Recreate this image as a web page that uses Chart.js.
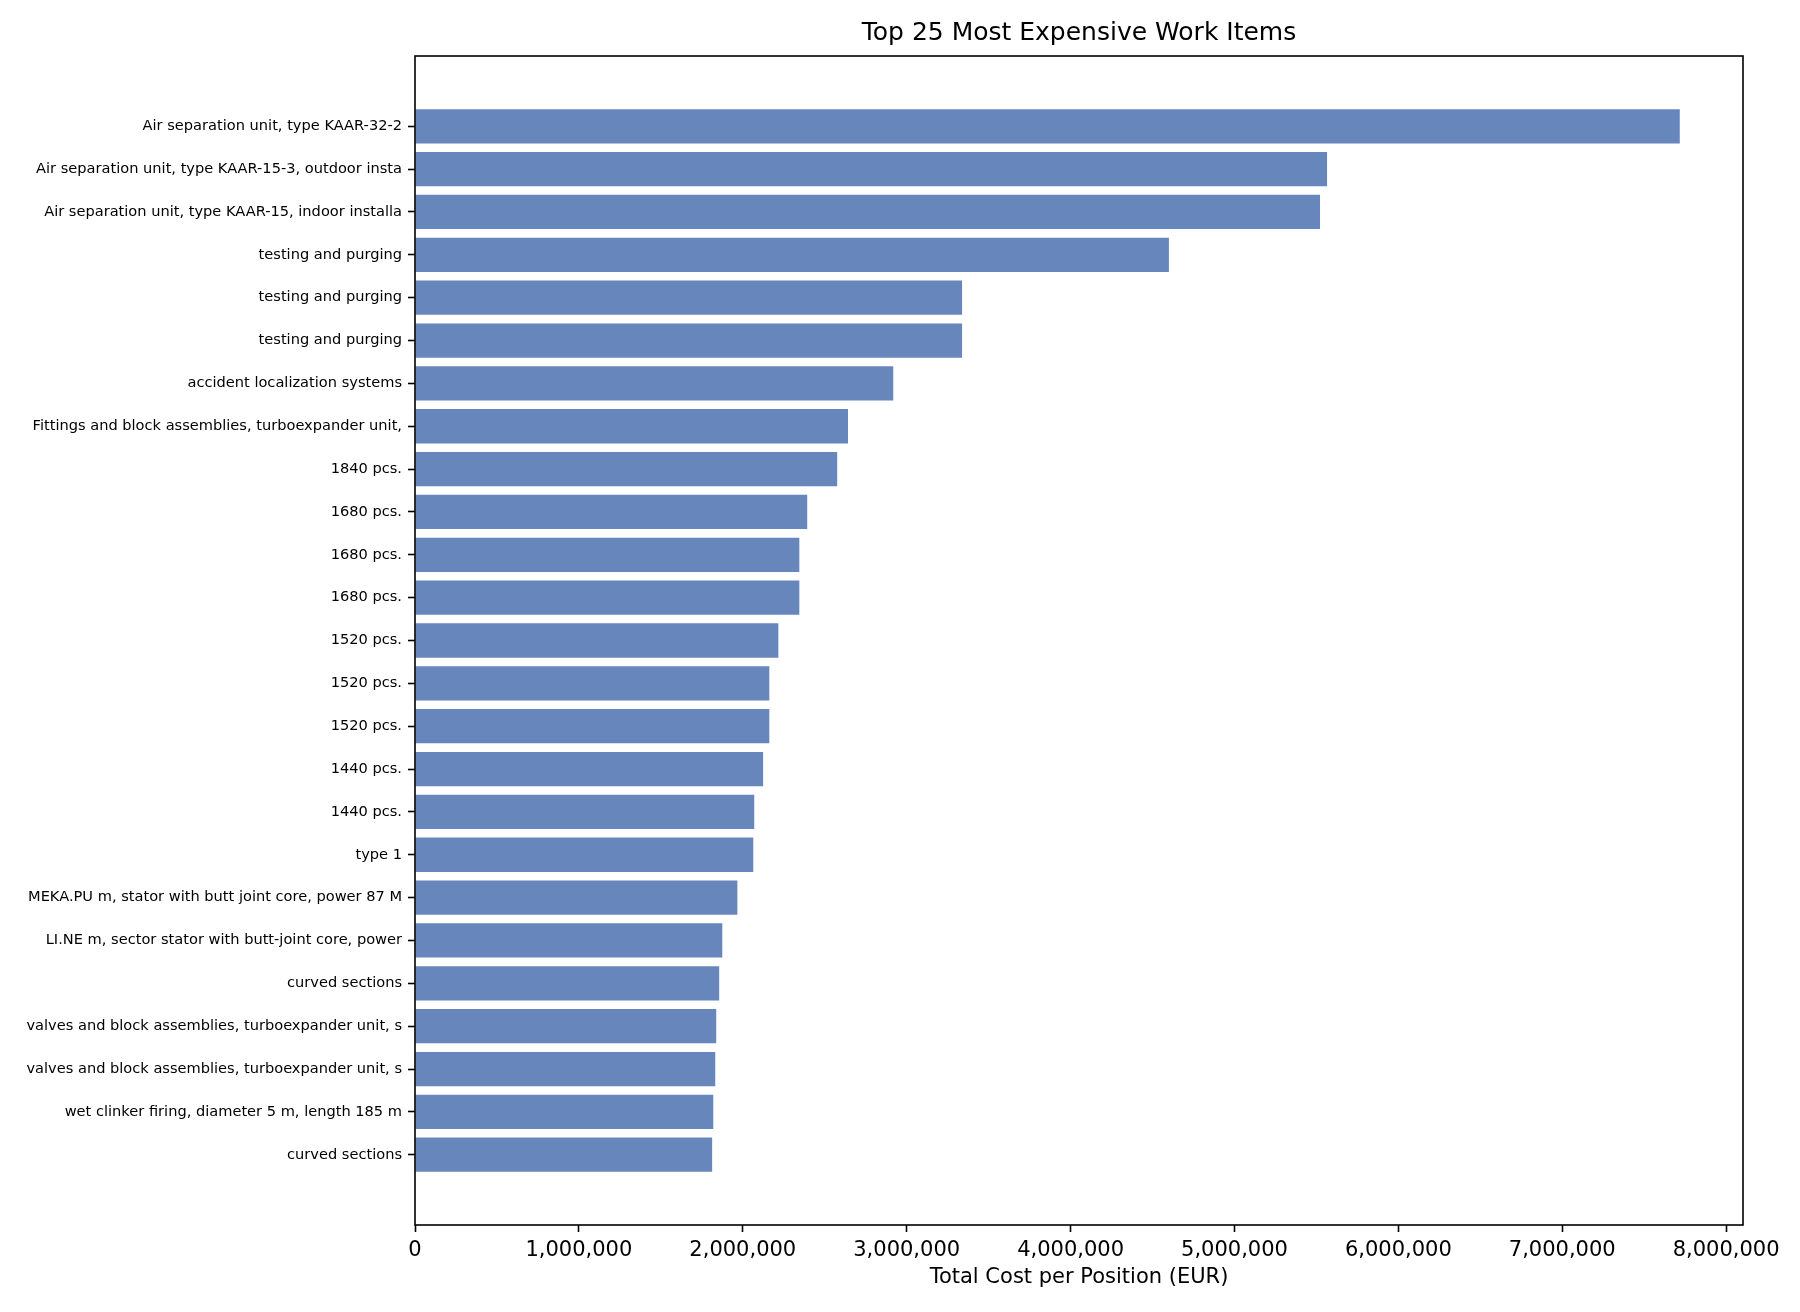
<!DOCTYPE html>
<html>
<head>
<meta charset="utf-8">
<script src="https://cdn.jsdelivr.net/npm/chart.js@4.4.1/dist/chart.umd.min.js"></script>
<style>
  html, body { margin: 0; padding: 0; background: #ffffff; }
  #wrap { width: 1800px; height: 1312px; }
</style>
</head>
<body>
<div id="wrap"><canvas id="c" width="1800" height="1312"></canvas></div>
<script>
const categories = [
  "Air separation unit, type KAAR-32-2",
  "Air separation unit, type KAAR-15-3, outdoor insta",
  "Air separation unit, type KAAR-15, indoor installa",
  "testing and purging",
  "testing and purging",
  "testing and purging",
  "accident localization systems",
  "Fittings and block assemblies, turboexpander unit,",
  "1840 pcs.",
  "1680 pcs.",
  "1680 pcs.",
  "1680 pcs.",
  "1520 pcs.",
  "1520 pcs.",
  "1520 pcs.",
  "1440 pcs.",
  "1440 pcs.",
  "type 1",
  "MEKA.PU m, stator with butt joint core, power 87 M",
  "LI.NE m, sector stator with butt-joint core, power",
  "curved sections",
  "valves and block assemblies, turboexpander unit, s",
  "valves and block assemblies, turboexpander unit, s",
  "wet clinker firing, diameter 5 m, length 185 m",
  "curved sections"
];
const totalCost = [
  7717000, 5565000, 5522000, 4600000, 3338000, 3338000, 2918000, 2642000,
  2576000, 2393000, 2345000, 2345000, 2217000, 2162000, 2162000, 2124000,
  2070000, 2064000, 1967000, 1875000, 1856000, 1838000, 1832000, 1820000, 1813000
];
const xTickValues = [0, 1000000, 2000000, 3000000, 4000000, 5000000, 6000000, 7000000, 8000000];
const chartTitle = "Top 25 Most Expensive Work Items";
const xAxisTitle = "Total Cost per Position (EUR)";

const barColor = "rgba(76,114,176,0.85)";
const ink = "#000000";
const fontFamily = "'DejaVu Sans', sans-serif";

const points = totalCost.map((v, i) => ({ x: v, y: i }));
const maxVal = Math.max(...totalCost);
const n = categories.length;
const yPad = (n - 1 + 0.8) * 0.05 + 0.4;

const framePlugin = {
  id: 'frame',
  afterDraw(chart) {
    const { ctx, chartArea: a } = chart;
    ctx.save();
    ctx.strokeStyle = ink;
    ctx.lineWidth = 1.6;
    ctx.strokeRect(a.left, a.top, a.right - a.left, a.bottom - a.top);
    ctx.restore();
  }
};

new Chart(document.getElementById('c'), {
  type: 'bar',
  data: {
    datasets: [{
      data: points,
      backgroundColor: barColor,
      borderWidth: 0,
      barPercentage: 0.8,
      categoryPercentage: 1.0
    }]
  },
  options: {
    indexAxis: 'y',
    responsive: false,
    animation: false,
    devicePixelRatio: 1,
    layout: { padding: { left: 0, right: 57, top: 0, bottom: 0 } },
    plugins: {
      legend: { display: false },
      tooltip: { enabled: false },
      title: {
        display: true,
        text: chartTitle,
        color: ink,
        fullSize: false,
        font: { family: fontFamily, size: 25, weight: 'normal', lineHeight: 1.2 },
        padding: { top: 18, bottom: 8 }
      }
    },
    scales: {
      x: {
        type: 'linear',
        position: 'bottom',
        min: 0,
        max: maxVal * 1.05,
        offset: false,
        afterBuildTicks(scale) { scale.ticks = xTickValues.map(v => ({ value: v })); },
        afterFit(scale) { scale.height = 87; },
        grid: { display: true, offset: false, drawOnChartArea: false, drawTicks: true, tickLength: 7, tickWidth: 1.6, tickColor: ink },
        border: { display: false },
        ticks: {
          color: ink,
          padding: 6,
          maxRotation: 0,
          autoSkip: false,
          font: { family: fontFamily, size: 21 },
          callback: (v) => Number(v).toLocaleString('en-US')
        },
        title: {
          display: true,
          text: xAxisTitle,
          color: ink,
          font: { family: fontFamily, size: 21, lineHeight: 1.2 },
          padding: { top: 0, bottom: 22 }
        }
      },
      y: {
        type: 'linear',
        position: 'left',
        reverse: true,
        offset: false,
        min: -yPad,
        max: n - 1 + yPad,
        afterBuildTicks(scale) { scale.ticks = categories.map((_, i) => ({ value: i })); },
        afterFit(scale) { scale.width = 415; },
        grid: { display: true, offset: false, drawOnChartArea: false, drawTicks: true, tickLength: 7, tickWidth: 1.6, tickColor: ink },
        border: { display: false },
        ticks: {
          color: ink,
          padding: 6,
          autoSkip: false,
          font: { family: fontFamily, size: 14.6 },
          callback: (v) => categories[v]
        }
      }
    }
  },
  plugins: [framePlugin]
});
</script>
</body>
</html>
